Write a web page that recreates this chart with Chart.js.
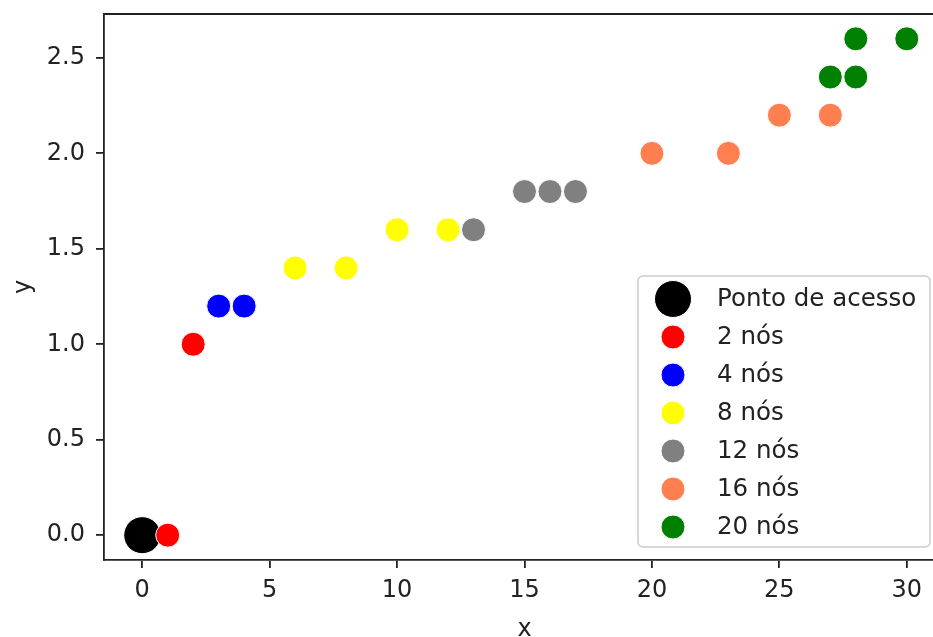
<!DOCTYPE html>
<html>
<head>
<meta charset="utf-8">
<script src="https://cdn.jsdelivr.net/npm/chart.js@4"></script>
<style>
  html, body { margin: 0; padding: 0; background: #fff; overflow: hidden; }
  #wrap { width: 950px; height: 637px; }
</style>
</head>
<body>
<div id="wrap"><canvas id="chart" width="950" height="637"></canvas></div>
<script>
// dados
const seriesLabels = ['Ponto de acesso', '2 nós', '4 nós', '8 nós', '12 nós', '16 nós', '20 nós'];

const apX = [0];
const apY = [0];
const n2X = [1, 2];
const n2Y = [0, 1.0];
const n4X = [3, 4];
const n4Y = [1.2, 1.2];
const n8X = [6, 8, 10, 12];
const n8Y = [1.4, 1.4, 1.6, 1.6];
const n12X = [13, 15, 16, 17];
const n12Y = [1.6, 1.8, 1.8, 1.8];
const n16X = [20, 23, 25, 27];
const n16Y = [2.0, 2.0, 2.2, 2.2];
const n20X = [27, 28, 28, 30];
const n20Y = [2.4, 2.4, 2.6, 2.6];

const xTicks = [0, 5, 10, 15, 20, 25, 30];
const yTicks = [0, 0.5, 1.0, 1.5, 2.0, 2.5];

const colors = ['#000000', '#ff0000', '#0000ff', '#ffff00', '#808080', '#ff7f50', '#008000'];
const radii = [18.5, 12, 12, 12, 12, 12, 12];

const allX = [apX, n2X, n4X, n8X, n12X, n16X, n20X];
const allY = [apY, n2Y, n4Y, n8Y, n12Y, n16Y, n20Y];

const FONT = 'DejaVu Sans';
const TXT = '#222';

const datasets = seriesLabels.map((label, i) => ({
  label: label,
  data: allX[i].map((x, j) => ({ x: x, y: allY[i][j] })),
  backgroundColor: colors[i],
  borderColor: '#ffffff',
  borderWidth: 1,
  pointRadius: radii[i],
  pointHoverRadius: radii[i],
  order: -i
}));

// moldura superior/direita + legenda no canto inferior direito
const extras = {
  id: 'extras',
  afterDraw(chart) {
    const ctx = chart.ctx;
    const a = chart.chartArea;
    ctx.save();
    ctx.strokeStyle = '#222';
    ctx.lineWidth = 1.8;
    ctx.beginPath();
    ctx.moveTo(a.left, a.top);
    ctx.lineTo(a.right, a.top);
    ctx.lineTo(a.right, a.bottom);
    ctx.stroke();

    // legenda
    const bx = 638, by = 276, bw = 292, bh = 271, r = 5;
    ctx.beginPath();
    ctx.roundRect(bx, by, bw, bh, r);
    ctx.fillStyle = 'rgba(255,255,255,0.8)';
    ctx.fill();
    ctx.strokeStyle = '#cccccc';
    ctx.lineWidth = 1.5;
    ctx.stroke();

    ctx.font = '24.5px "' + FONT + '"';
    ctx.textBaseline = 'middle';
    ctx.textAlign = 'left';
    chart.data.datasets.forEach((ds, i) => {
      const cy = 299 + i * 38;
      ctx.beginPath();
      ctx.arc(673, cy, ds.pointRadius, 0, Math.PI * 2);
      ctx.fillStyle = ds.backgroundColor;
      ctx.fill();
      ctx.strokeStyle = '#fff';
      ctx.lineWidth = 1;
      ctx.stroke();
      ctx.fillStyle = TXT;
      ctx.fillText(ds.label, 717, cy + 1);
    });
    ctx.restore();
  }
};

new Chart(document.getElementById('chart').getContext('2d'), {
  type: 'scatter',
  data: { datasets: datasets },
  plugins: [extras],
  options: {
    responsive: false,
    animation: false,
    layout: { autoPadding: false, padding: { top: 14, right: 5, bottom: 0, left: 0 } },
    plugins: {
      legend: { display: false },
      tooltip: { enabled: false }
    },
    scales: {
      x: {
        type: 'linear',
        min: -1.5,
        max: 31.5,
        afterFit: s => {
          s.height = 77;
          s.paddingLeft = 0;
          s.paddingRight = 0;
        },
        afterBuildTicks: s => { s.ticks = xTicks.map(v => ({ value: v })); },
        ticks: {
          color: TXT,
          padding: 8,
          maxRotation: 0,
          font: { family: FONT, size: 24 },
          callback: v => String(v)
        },
        grid: { drawOnChartArea: false, drawTicks: true, tickLength: 8, color: '#222', lineWidth: 1.8 },
        border: { display: true, color: '#222', width: 1.8 },
        title: {
          display: true,
          text: 'x',
          color: TXT,
          padding: { top: 0, bottom: 0 },
          font: { family: FONT, size: 24, lineHeight: 0.6 }
        }
      },
      y: {
        type: 'linear',
        min: -0.13,
        max: 2.73,
        afterFit: s => {
          s.width = 104;
          s.paddingTop = 0;
          s.paddingBottom = 0;
        },
        afterBuildTicks: s => { s.ticks = yTicks.map(v => ({ value: v })); },
        ticks: {
          color: TXT,
          padding: 11,
          font: { family: FONT, size: 24 },
          callback: v => Number(v).toFixed(1)
        },
        grid: { drawOnChartArea: false, drawTicks: true, tickLength: 8, color: '#222', lineWidth: 1.8 },
        border: { display: true, color: '#222', width: 1.8 },
        title: {
          display: true,
          text: 'y',
          color: TXT,
          padding: { top: 12, bottom: 0 },
          font: { family: FONT, size: 24, lineHeight: 1 }
        }
      }
    }
  }
});
</script>
</body>
</html>
